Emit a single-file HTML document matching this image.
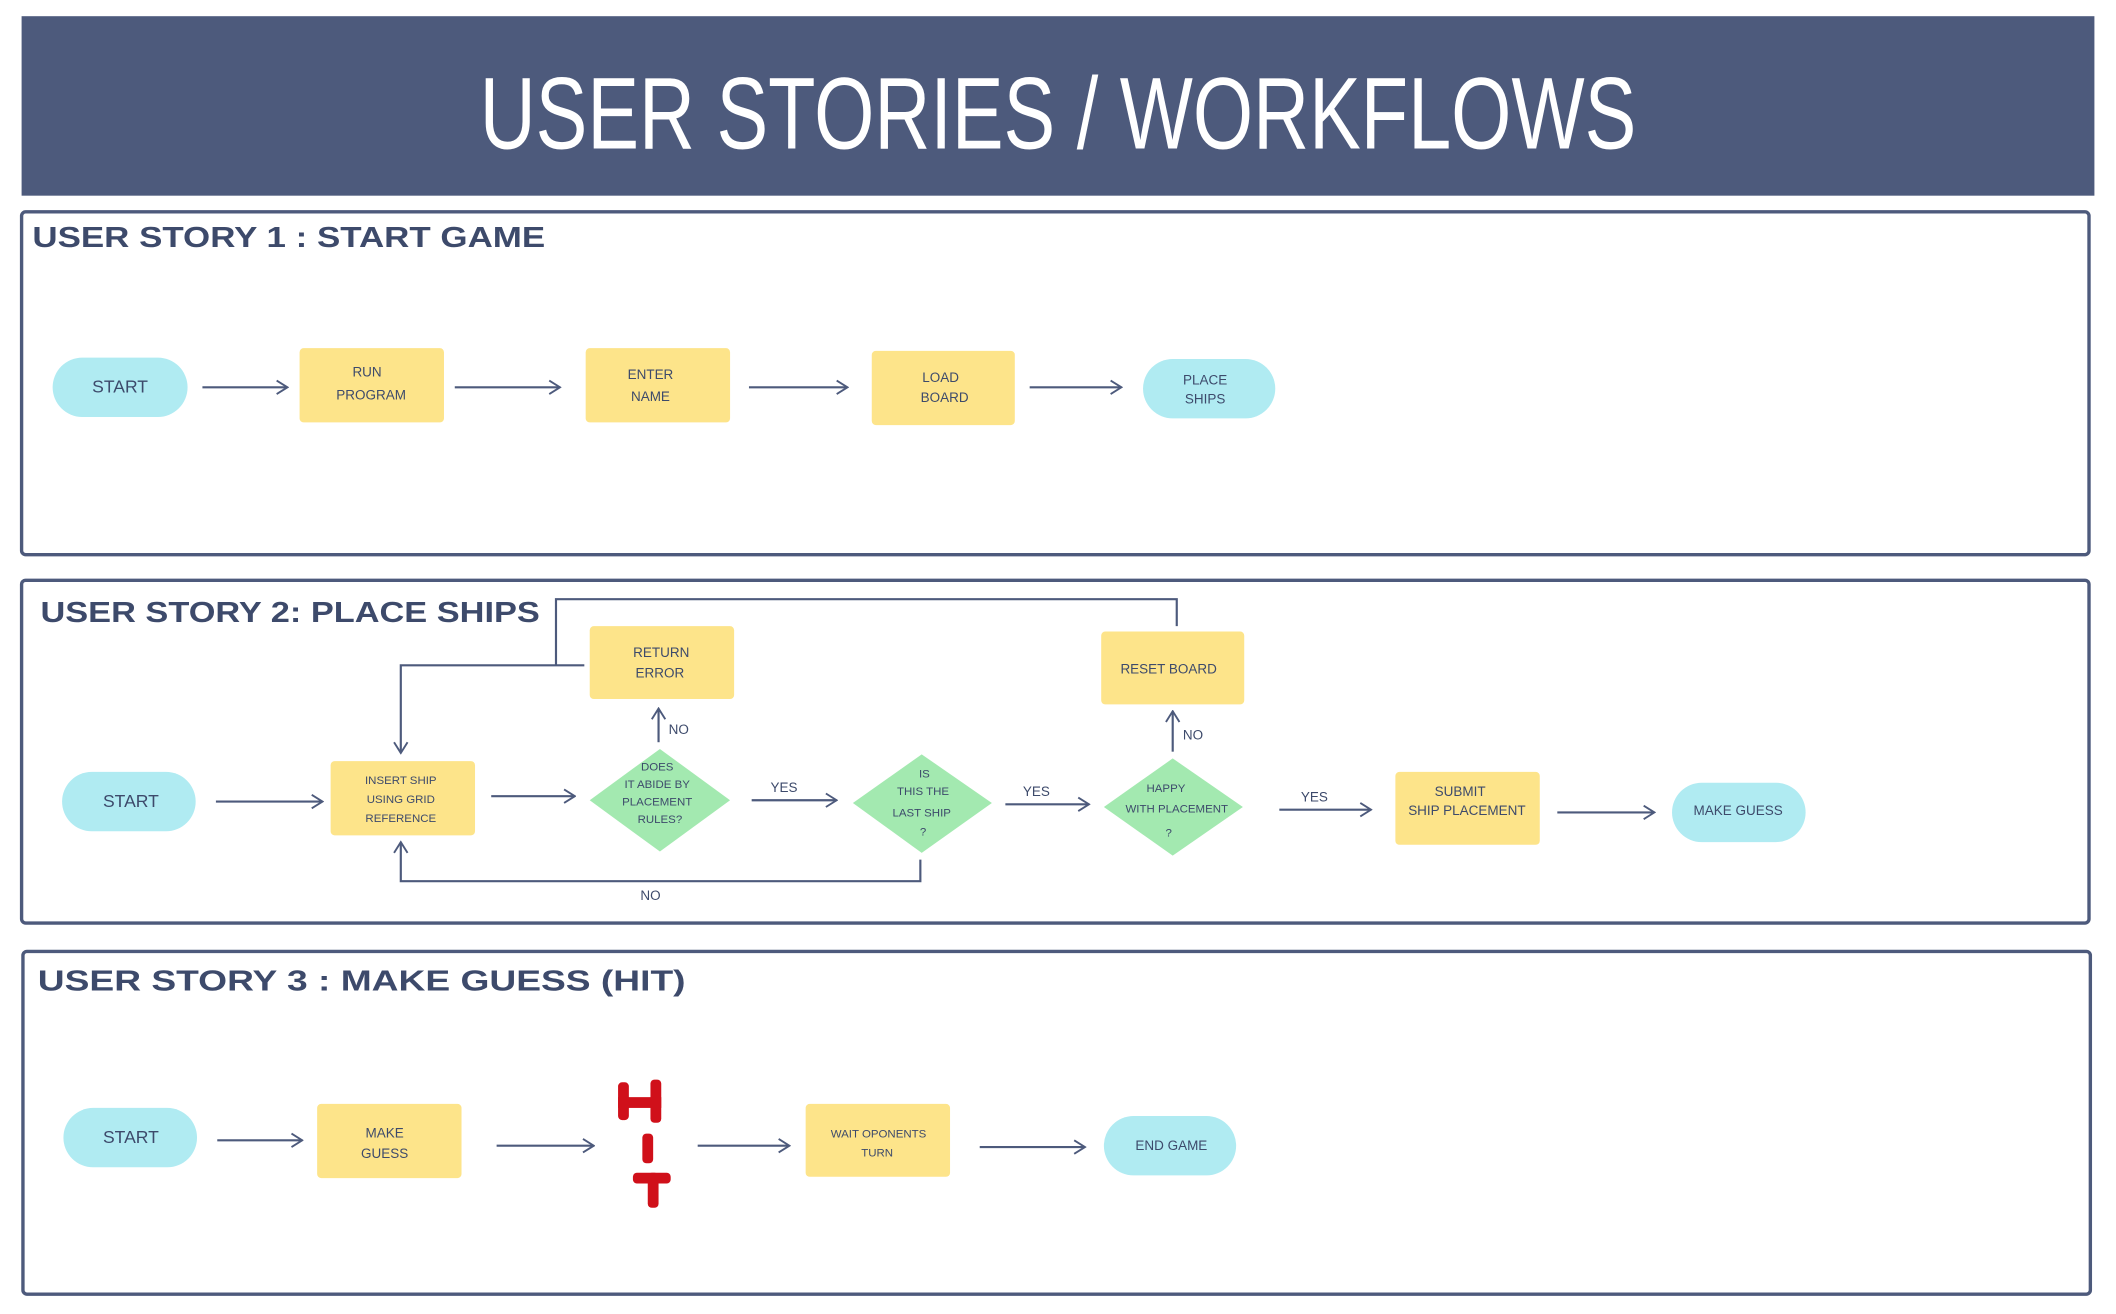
<!DOCTYPE html>
<html><head><meta charset="utf-8"><style>
html,body{margin:0;padding:0;background:#fff;width:2116px;height:1314px;overflow:hidden}
svg{display:block}
text{font-family:"Liberation Sans Narrow","Liberation Sans",sans-serif;fill:#3d4a6b;text-anchor:middle}
.t{font-weight:bold;text-anchor:start;font-size:21px}
.n{font-size:10px}
.s{font-size:8.5px}
.l{stroke:#4d5a7c;stroke-width:1.6;fill:none}
.y{fill:#fde48a}
.c{fill:#b0ebf2}
.g{fill:#a3e9b0}
.b{fill:#fff;stroke:#4d5a7c;stroke-width:2.5}
</style></head><body>
<svg width="2116" height="1314" viewBox="0 0 1568 973.7" xmlns="http://www.w3.org/2000/svg">
<defs><marker id="a" markerWidth="10" markerHeight="12" refX="9" refY="6" orient="auto" markerUnits="userSpaceOnUse"><path d="M1,1 L9,6 L1,11" fill="none" stroke="#4d5a7c" stroke-width="1.4"/></marker></defs>
<rect x="16" y="12" width="1536" height="133" fill="#4d5a7c"/>
<text x="784" y="110" style="fill:#fff;font-size:76px" textLength="857" lengthAdjust="spacingAndGlyphs">USER STORIES / WORKFLOWS</text>

<!-- Story 1 -->
<rect class="b" x="16" y="157" width="1532" height="254" rx="3"/>
<text class="t" x="24" y="183" textLength="380" lengthAdjust="spacingAndGlyphs">USER STORY 1 : START GAME</text>
<rect class="c" x="39" y="265" width="100" height="44" rx="22"/><text class="n" x="89" y="291" style="font-size:13px">START</text>
<rect class="y" x="222" y="258" width="107" height="55" rx="3"/><text class="n" x="272" y="279">RUN</text><text class="n" x="275" y="296">PROGRAM</text>
<rect class="y" x="434" y="258" width="107" height="55" rx="3"/><text class="n" x="482" y="281">ENTER</text><text class="n" x="482" y="297">NAME</text>
<rect class="y" x="646" y="260" width="106" height="55" rx="3"/><text class="n" x="697" y="283">LOAD</text><text class="n" x="700" y="298">BOARD</text>
<rect class="c" x="847" y="266" width="98" height="44" rx="22"/><text class="n" x="893" y="285">PLACE</text><text class="n" x="893" y="299">SHIPS</text>
<path class="l" marker-end="url(#a)" d="M150 287H213"/><path class="l" marker-end="url(#a)" d="M337 287H415"/><path class="l" marker-end="url(#a)" d="M555 287H628"/><path class="l" marker-end="url(#a)" d="M763 287H831"/>

<!-- Story 2 -->
<rect class="b" x="16" y="430" width="1532" height="254" rx="3"/>
<text class="t" x="30" y="461" textLength="370" lengthAdjust="spacingAndGlyphs">USER STORY 2: PLACE SHIPS</text>
<rect class="c" x="46" y="572" width="99" height="44" rx="22"/><text class="n" x="97" y="598" style="font-size:13px">START</text>
<rect class="y" x="245" y="564" width="107" height="55" rx="3"/>
<text class="s" x="297" y="581">INSERT SHIP</text><text class="s" x="297" y="595">USING GRID</text><text class="s" x="297" y="609">REFERENCE</text>
<polygon class="g" points="489,555 541,593 489,631 437,593"/>
<text class="s" x="487" y="571">DOES</text><text class="s" x="487" y="584">IT ABIDE BY</text><text class="s" x="487" y="597">PLACEMENT</text><text class="s" x="489" y="610">RULES?</text>
<rect class="y" x="437" y="464" width="107" height="54" rx="3"/><text class="n" x="490" y="487">RETURN</text><text class="n" x="489" y="502">ERROR</text>
<polygon class="g" points="683,559 735,595 683,632 632,595"/>
<text class="s" x="685" y="576">IS</text><text class="s" x="684" y="589">THIS THE</text><text class="s" x="683" y="605">LAST SHIP</text><text class="s" x="684" y="619">?</text>
<polygon class="g" points="869,562 921,598 869,634 818,598"/>
<text class="s" x="864" y="587">HAPPY</text><text class="s" x="872" y="602">WITH PLACEMENT</text><text class="s" x="866" y="620">?</text>
<rect class="y" x="816" y="468" width="106" height="54" rx="3"/><text class="n" x="866" y="499">RESET BOARD</text>
<rect class="y" x="1034" y="572" width="107" height="54" rx="3"/><text class="n" x="1082" y="590">SUBMIT</text><text class="n" x="1087" y="604">SHIP PLACEMENT</text>
<rect class="c" x="1239" y="580" width="99" height="44" rx="22"/><text class="n" x="1288" y="604">MAKE GUESS</text>
<path class="l" marker-end="url(#a)" d="M160 594H239"/><path class="l" marker-end="url(#a)" d="M364 590H426"/><path class="l" marker-end="url(#a)" d="M488 550V525"/><path class="l" marker-end="url(#a)" d="M557 593H620"/><path class="l" marker-end="url(#a)" d="M745 596H807"/><path class="l" marker-end="url(#a)" d="M869 557V527"/><path class="l" marker-end="url(#a)" d="M948 600H1016"/><path class="l" marker-end="url(#a)" d="M1154 602H1226"/>
<path class="l" marker-end="url(#a)" d="M433 493H297V558"/>
<path class="l" d="M412 493V444H872V464"/>
<path class="l" marker-end="url(#a)" d="M682 637V653H297V624"/>
<text class="n" x="503" y="544">NO</text><text class="n" x="884" y="548">NO</text><text class="n" x="482" y="667">NO</text>
<text class="n" x="581" y="587">YES</text><text class="n" x="768" y="590">YES</text><text class="n" x="974" y="594">YES</text>

<!-- Story 3 -->
<rect class="b" x="17" y="705" width="1532" height="254" rx="3"/>
<text class="t" x="28" y="734" textLength="480" lengthAdjust="spacingAndGlyphs">USER STORY 3 : MAKE GUESS (HIT)</text>
<rect class="c" x="47" y="821" width="99" height="44" rx="22"/><text class="n" x="97" y="847" style="font-size:13px">START</text>
<rect class="y" x="235" y="818" width="107" height="55" rx="3"/><text class="n" x="285" y="843">MAKE</text><text class="n" x="285" y="858">GUESS</text>
<g fill="#d0101a"><rect x="458" y="802" width="8" height="28" rx="3"/><rect x="482" y="800" width="8" height="32" rx="3"/><rect x="458" y="813" width="32" height="8"/>
<rect x="476" y="840" width="8" height="22" rx="3"/>
<rect x="469" y="869" width="28" height="8" rx="3"/><rect x="480" y="869" width="8" height="26" rx="3"/></g>
<rect class="y" x="597" y="818" width="107" height="54" rx="3"/><text class="s" x="651" y="843">WAIT OPONENTS</text><text class="s" x="650" y="857">TURN</text>
<rect class="c" x="818" y="827" width="98" height="44" rx="22"/><text class="n" x="868" y="852">END GAME</text>
<path class="l" marker-end="url(#a)" d="M161 845H224"/><path class="l" marker-end="url(#a)" d="M368 849H440"/><path class="l" marker-end="url(#a)" d="M517 849H585"/><path class="l" marker-end="url(#a)" d="M726 850H804"/>
</svg>
</body></html>
